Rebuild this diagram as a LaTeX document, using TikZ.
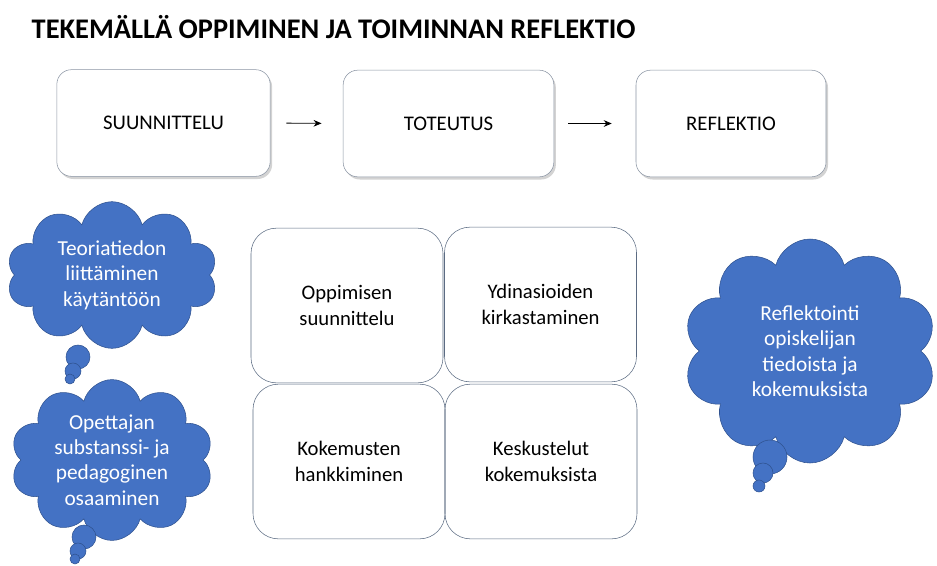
\documentclass[tikz,border=0pt]{standalone}
\usepackage{fontspec}
\setmainfont{Carlito}
\usetikzlibrary{shapes.symbols,shadows,arrows.meta}
\definecolor{cloudblue}{HTML}{4472C4}
\definecolor{cloudedge}{HTML}{2F528F}
\definecolor{boxedge}{HTML}{8A94A3}
\definecolor{gridedge}{HTML}{5B6B82}
\begin{document}
\begin{tikzpicture}
            [
                x = 0.75pt, y = -0.75pt,
                stage/.style  = {shape=rectangle, rounded corners=11pt,
                draw=boxedge, fill=white, align=center,
                drop shadow={shadow xshift=1.5pt, shadow yshift=-2pt, opacity=0.35},
                minimum height=80pt, font=\fontsize{15.6}{18}\selectfont},
                phase/.style  = {shape=rectangle, rounded corners=19pt,
                draw=gridedge, align=center, minimum width=144pt,
                minimum height=116pt, font=\fontsize{15.5}{20}\selectfont},
                thought/.style = {cloud, cloud puffs=10, cloud ignores aspect,
                draw=cloudedge, fill=cloudblue, text=white, align=center,
                inner sep=0pt, font=\fontsize{16}{19}\selectfont},
                bubble/.style = {draw=cloudedge, fill=cloudblue},
                flow/.style   = {-{Stealth[length=6pt,width=5pt]}, line width=0.6pt}
            ]
            \useasboundingbox (0,0) rectangle (937,565);
            \node [anchor=west, font=\fontsize{21.3}{24}\selectfont\bfseries]
                (title) at (27,27) {TEKEMÄLLÄ OPPIMINEN JA TOIMINNAN REFLEKTIO};
            % top row
            \node [stage, minimum width=160pt] (suun) at (163.5,123) {SUUNNITTELU};
            \node [stage, minimum width=158pt] (tot)  at (448.5,123.5) {TOTEUTUS};
            \node [stage, minimum width=142.5pt] (refl) at (731,123.5) {REFLEKTIO};
            \draw [flow, shorten <=12pt, shorten >=16pt] (suun.east) -- (tot.west);
            \draw [flow, shorten <=10.5pt, shorten >=18pt] (tot.east) -- (refl.west);
            % grid
            \node [phase] (opp)  at (347,305.5) {Oppimisen \\ suunnittelu};
            \node [phase] (ydin) at (540.5,304.5) {Ydinasioiden \\ kirkastaminen};
            \node [phase] (kok)  at (349,461.5) {Kokemusten \\ hankkiminen};
            \node [phase] (kesk) at (541,461.5) {Keskustelut \\ kokemuksista};
            % clouds
            \node [thought, minimum width=158pt, minimum height=110pt]
                (teoria) at (112,275) {Teoriatiedon \\ liittäminen \\ käytäntöön};
            \draw [bubble] (78,357) circle [radius=12];
            \draw [bubble] (73,371) circle [radius=8];
            \draw [bubble] (70,379) circle [radius=5];
            \node [thought, minimum width=152pt, minimum height=102pt]
                (opettaja) at (112,460) {Opettajan \\ substanssi- ja \\ pedagoginen \\ osaaminen};
            \draw [bubble] (84,537) circle [radius=12];
            \draw [bubble] (78,551) circle [radius=8];
            \draw [bubble] (75,559) circle [radius=5];
            \node [thought, minimum width=190pt, minimum height=168pt]
                (reflektointi) at (810,351) {Reflektointi \\ opiskelijan \\ tiedoista ja \\ kokemuksista};
            \draw [bubble] (770,457) circle [radius=17];
            \draw [bubble] (763,473) circle [radius=10];
            \draw [bubble] (759,486) circle [radius=6];
        \end{tikzpicture}
\end{document}
